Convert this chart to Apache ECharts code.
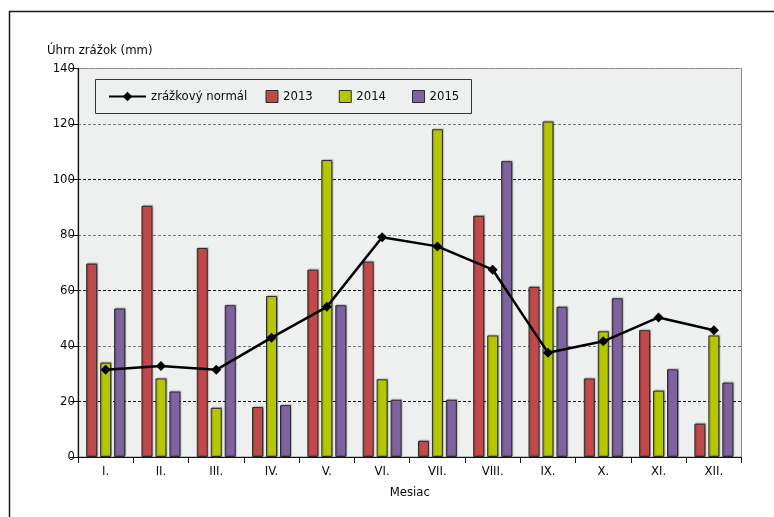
<!DOCTYPE html>
<html>
<head>
<meta charset="utf-8">
<script src="https://cdn.jsdelivr.net/npm/echarts@6/dist/echarts.min.js"></script>
<style>html,body{margin:0;padding:0;background:#fff;}#c{width:774px;height:517px;}</style>
</head>
<body>
<div id="c"></div>
<script>
const categories = ['I.', 'II.', 'III.', 'IV.', 'V.', 'VI.', 'VII.', 'VIII.', 'IX.', 'X.', 'XI.', 'XII.'];
const normal = [31.4, 32.8, 31.4, 43.0, 54.1, 79.2, 75.9, 67.5, 37.6, 41.7, 50.3, 45.7];
const y2013 = [69.7, 90.5, 75.3, 18.0, 67.5, 70.4, 5.8, 86.9, 61.3, 28.3, 45.7, 12.0];
const y2014 = [34.0, 28.3, 17.7, 58.0, 107.0, 28.0, 118.1, 43.8, 120.9, 45.3, 23.9, 43.8];
const y2015 = [53.5, 23.6, 54.7, 18.7, 54.7, 20.6, 20.6, 106.6, 54.1, 57.2, 31.6, 26.8];
const seriesNames = ['zrážkový normál', '2013', '2014', '2015'];
const colors = ['#000000', '#c04a4b', '#b4c700', '#7f63a1'];

const FONT = "'Liberation Sans Narrow', 'DejaVu Sans Condensed', sans-serif";
const FS = 13;
const TXT = '#0a0a0a';
const chart = echarts.init(document.getElementById('c'), null, {renderer: 'canvas'});

function barSeries(name, data, color) {
  return {
    name: name, type: 'bar', data: data, barWidth: 11, barGap: '27%',
    itemStyle: {color: color, borderColor: '#2a2a2a', borderWidth: 1,
      shadowColor: 'rgba(0,0,0,0.25)', shadowBlur: 1, shadowOffsetX: 1, shadowOffsetY: -1},
    z: 2
  };
}

chart.setOption({
  animation: false,
  textStyle: {fontFamily: FONT, fontSize: FS, color: TXT},
  grid: {left: 78, right: 32.5, top: 68.5, height: 388.5, show: true,
    backgroundColor: '#eef0ef', borderColor: '#8a8a8a', borderWidth: 1},
  legend: [
    {data: [seriesNames[0]], left: 103, top: 85, itemWidth: 37, itemHeight: 12, itemGap: 5,
     textStyle: {fontFamily: FONT, fontSize: FS, color: TXT}},
    {data: seriesNames.slice(1), icon: 'rect', left: 260.5, top: 85, itemWidth: 12, itemHeight: 12, itemGap: 26,
     itemStyle: {borderColor: '#2a2a2a', borderWidth: 1, shadowBlur: 0, shadowOffsetX: 0, shadowOffsetY: 0},
     textStyle: {fontFamily: FONT, fontSize: FS, color: TXT}}
  ],
  graphic: [
    {type: 'rect', shape: {x: 9.5, y: 11.5, width: 800, height: 600}, style: {fill: 'none', stroke: '#1a1a1a', lineWidth: 1.5}, z: -10},
    {type: 'rect', shape: {x: 95.5, y: 79.5, width: 376, height: 34}, style: {fill: '#eef0ef', stroke: '#333', lineWidth: 1}, z: 0},
    {type: 'text', left: 47, top: 44, style: {text: 'Úhrn zrážok (mm)', font: FS + "px " + FONT, fill: TXT}}
  ],
  xAxis: {
    type: 'category', data: categories, name: 'Mesiac', nameLocation: 'middle', nameGap: 29,
    nameTextStyle: {fontFamily: FONT, fontSize: FS, color: TXT},
    axisLine: {lineStyle: {color: '#111', width: 1.2}},
    axisTick: {show: true, length: 6, lineStyle: {color: '#111'}},
    axisLabel: {margin: 8, fontFamily: FONT, fontSize: FS, color: TXT}
  },
  yAxis: {
    type: 'value', min: 0, max: 140, interval: 20,
    axisLine: {show: true, lineStyle: {color: '#111', width: 1.2}},
    axisTick: {show: true, length: 8, lineStyle: {color: '#111'}},
    axisLabel: {margin: 3, fontFamily: FONT, fontSize: FS, color: TXT},
    splitLine: {show: true, lineStyle: {color: ['#777', '#111', '#777', '#111', '#777', '#111', '#777', '#999'], type: [3, 2], width: 1}}
  },
  series: [
    barSeries(seriesNames[1], y2013, colors[1]),
    barSeries(seriesNames[2], y2014, colors[2]),
    barSeries(seriesNames[3], y2015, colors[3]),
    {name: seriesNames[0], type: 'line', data: normal, symbol: 'diamond', symbolSize: 10,
     itemStyle: {color: '#000'}, lineStyle: {color: '#000', width: 2.5}, z: 5}
  ]
});
</script>
</body>
</html>
